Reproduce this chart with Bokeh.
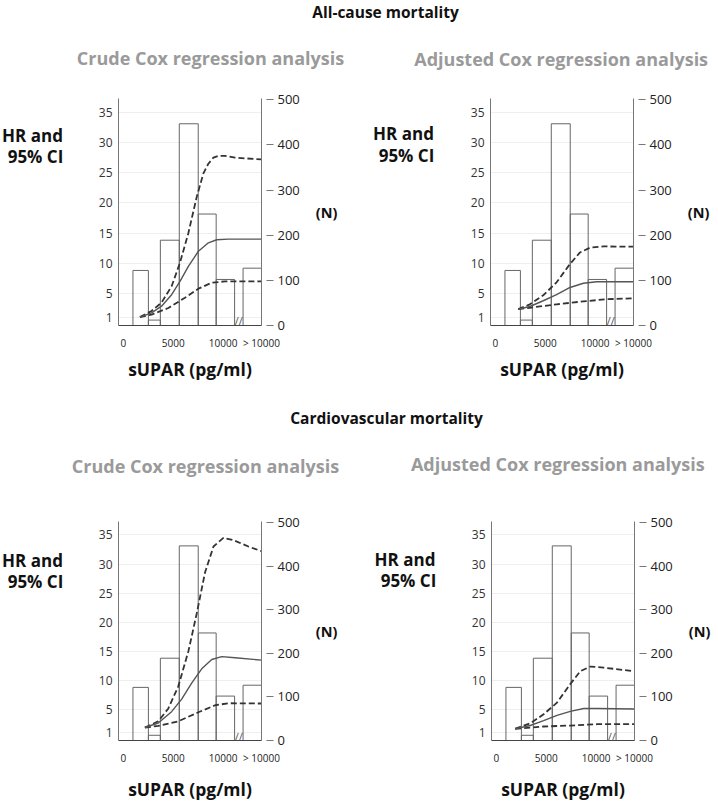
from bokeh.plotting import figure
from bokeh.models import Range1d, LinearAxis, FixedTicker, Label
from bokeh.layouts import column, row
from bokeh.embed import file_html
from bokeh.resources import INLINE

FONT = "Open Sans"

# ---------------- data ----------------
# histogram of sUPAR (pg/ml): bin edges and counts (right axis, N)
bin_left = [950, 2500, 3700, 5600, 7500, 9300, 12000]
bin_right = [2500, 3700, 5600, 7500, 9300, 11150, 13850]
bin_count = [122, 12, 189, 447, 247, 102, 127]

x_tick_vals = [0, 5000, 10000, 13850]
x_tick_labels = ["0", "5000", "10000", "> 10000"]
hr_ticks = [1, 5, 10, 15, 20, 25, 30, 35]
n_ticks = [0, 100, 200, 300, 400, 500]

# All-cause mortality, crude
ac_crude_hr_x = [1650, 2820, 3820, 4830, 5670, 6510, 7520, 8520, 9360, 10500, 13850]
ac_crude_hr = [1.1, 1.8, 2.9, 4.8, 7.0, 9.5, 12.0, 13.4, 13.9, 14.0, 14.0]
ac_crude_up_x = [1650, 2820, 3820, 4830, 5670, 6510, 7350, 8020, 8520, 9020, 9530, 10200, 11200, 13850]
ac_crude_up = [1.1, 2.1, 3.5, 6.2, 10.1, 15.0, 21.0, 24.9, 26.5, 27.5, 27.8, 27.8, 27.5, 27.2]
ac_crude_lo_x = [1650, 2820, 4500, 6170, 7520, 8860, 10200, 13850]
ac_crude_lo = [1.1, 1.5, 2.6, 4.3, 5.8, 6.8, 7.0, 7.0]

# All-cause mortality, adjusted
ac_adj_hr_x = [2280, 3450, 4790, 6130, 7480, 8820, 10160, 13850]
ac_adj_hr = [2.4, 2.85, 3.8, 4.8, 6.0, 6.7, 6.95, 6.95]
ac_adj_up_x = [2280, 3450, 4790, 6130, 7480, 8480, 9490, 10830, 13850]
ac_adj_up = [2.4, 3.2, 4.7, 6.85, 9.9, 11.8, 12.6, 12.8, 12.75]
ac_adj_lo_x = [2280, 3450, 6130, 8820, 11170, 13850]
ac_adj_lo = [2.4, 2.64, 3.2, 3.7, 4.05, 4.2]

# Cardiovascular mortality, crude
cv_crude_hr_x = [2150, 3490, 4830, 5840, 6840, 7850, 8860, 9860, 11200, 13850]
cv_crude_hr = [1.93, 2.7, 4.65, 6.8, 9.55, 12.0, 13.6, 14.1, 13.9, 13.5]
cv_crude_up_x = [2150, 3490, 4500, 5500, 6510, 7350, 8190, 9030, 10030, 11040, 12540, 13850]
cv_crude_up = [1.93, 3.0, 5.2, 9.0, 15.0, 21.5, 28.6, 33.0, 34.5, 34.1, 33.0, 32.2]
cv_crude_lo_x = [2150, 3490, 5500, 7520, 9200, 10540, 13850]
cv_crude_lo = [1.93, 2.2, 3.0, 4.55, 5.75, 6.1, 6.05]

# Cardiovascular mortality, adjusted
cv_adj_hr_x = [1880, 3390, 4730, 6070, 7410, 8760, 10100, 13850]
cv_adj_hr = [1.72, 2.27, 3.1, 4.0, 4.7, 5.2, 5.2, 5.1]
cv_adj_up_x = [1880, 3390, 4730, 6070, 7410, 8420, 9430, 10770, 13850]
cv_adj_up = [1.72, 2.65, 4.2, 6.2, 9.4, 11.6, 12.4, 12.2, 11.6]
cv_adj_lo_x = [1880, 4730, 7410, 10100, 13850]
cv_adj_lo = [1.72, 2.1, 2.27, 2.5, 2.5]

# ---------------- layout helpers ----------------
X_RANGE = (-500, 13850)
HR_RANGE = (-0.3, 37.3)
N_RANGE = (0, 503)
FW = 143
GRAY = "#9a9a9a"
BLK = "#111111"


def make_panel(width, height, border_left, border_top, frame_h, xlab_standoff, curves):
    p = figure(width=width, height=height, output_backend="svg", toolbar_location=None,
               x_range=Range1d(*X_RANGE), y_range=Range1d(*HR_RANGE),
               min_border_left=border_left, min_border_top=border_top,
               min_border_right=width - border_left - FW,
               min_border_bottom=height - border_top - frame_h)
    p.outline_line_color = None
    p.background_fill_color = "white"
    p.border_fill_color = "white"

    # left axis (HR)
    p.yaxis.ticker = FixedTicker(ticks=hr_ticks)
    p.yaxis.major_tick_out = 0
    p.yaxis.major_tick_in = 0
    p.yaxis.major_tick_line_color = None
    p.yaxis.minor_tick_line_color = None
    p.yaxis.axis_line_color = "#777777"
    p.yaxis.major_label_text_font = FONT
    p.yaxis.major_label_text_font_size = "12px"
    p.yaxis.major_label_text_color = "#333333"
    p.yaxis.major_label_standoff = 6
    p.ygrid.ticker = FixedTicker(ticks=hr_ticks)
    p.ygrid.grid_line_color = "#efefef"
    p.xgrid.grid_line_color = None

    # bottom axis
    p.xaxis.ticker = FixedTicker(ticks=x_tick_vals)
    p.xaxis.major_label_overrides = {v: l for v, l in zip(x_tick_vals, x_tick_labels)}
    p.xaxis.major_tick_out = 0
    p.xaxis.major_tick_in = 0
    p.xaxis.major_tick_line_color = None
    p.xaxis.minor_tick_line_color = None
    p.xaxis.axis_line_color = "#444444"
    p.xaxis.major_label_text_font = FONT
    p.xaxis.major_label_text_font_size = "10px"
    p.xaxis.major_label_text_color = "#222222"
    p.xaxis.major_label_standoff = 10
    p.xaxis.axis_label = "sUPAR (pg/ml)"
    p.xaxis.axis_label_text_font = FONT
    p.xaxis.axis_label_text_font_size = "17.5px"
    p.xaxis.axis_label_text_font_style = "bold"
    p.xaxis.axis_label_text_color = BLK
    p.xaxis.axis_label_standoff = xlab_standoff

    # right axis (N)
    p.extra_y_ranges = {"n": Range1d(*N_RANGE)}
    ax = LinearAxis(y_range_name="n", ticker=FixedTicker(ticks=n_ticks))
    ax.major_tick_in = -5
    ax.major_tick_out = 12
    ax.major_tick_line_color = "#777777"
    ax.minor_tick_line_color = None
    ax.axis_line_color = "#777777"
    ax.major_label_text_font = FONT
    ax.major_label_text_font_size = "13px"
    ax.major_label_text_color = "#222222"
    ax.major_label_standoff = 4
    ax.axis_label = "(N)"
    ax.axis_label_orientation = "horizontal"
    ax.axis_label_text_font = FONT
    ax.axis_label_text_font_size = "14.5px"
    ax.axis_label_text_font_style = "bold"
    ax.axis_label_text_color = BLK
    ax.axis_label_standoff = 13
    p.add_layout(ax, "right")

    # histogram
    p.quad(left=bin_left, right=bin_right, top=bin_count, bottom=0, y_range_name="n",
           fill_color=None, line_color="#666666", line_width=1)

    hx, hy, ux, uy, lx, ly = curves
    p.line(ux, uy, line_color="#333333", line_width=1.8, line_dash="6 3")
    p.line(lx, ly, line_color="#333333", line_width=1.8, line_dash="6 3")
    p.line(hx, hy, line_color="#555555", line_width=1.4)

    # axis break mark between the last two bins
    bx = (bin_right[5] + bin_left[6]) / 2
    p.add_layout(Label(x=bx, y=0.45, text="//", text_font=FONT, text_font_size="11px",
                       text_color="#555555", text_align="center", text_baseline="middle"))
    return p


def text_fig(width, height, items):
    t = figure(width=width, height=height, output_backend="svg", toolbar_location=None,
               x_range=Range1d(0, width), y_range=Range1d(height, 0), min_border=0)
    t.axis.visible = False
    t.grid.grid_line_color = None
    t.outline_line_color = None
    for (x, y, txt, size, color) in items:
        t.add_layout(Label(x=x, y=y, text=txt, text_font=FONT, text_font_size=size,
                           text_font_style="bold", text_color=color,
                           text_align="center", text_baseline="middle"))
    return t


def hr_fig(width, height, c1, c2):
    return text_fig(width, height, [(c1[0], c1[1], "HR and", "17px", BLK),
                                    (c2[0], c2[1], "95% CI", "17px", BLK)])


# top block (page y 0..80)
t1 = text_fig(718, 80, [
    (385, 11, "All-cause mortality", "15.5px", BLK),
    (210, 57, "Crude Cox regression analysis", "18px", GRAY),
    (563, 58, "Adjusted  Cox regression analysis", "18px", GRAY),
])

l1 = hr_fig(75, 320, (32, 52), (35, 82))
p1 = make_panel(284, 320, 43, 18, 228, 4,
                (ac_crude_hr_x, ac_crude_hr, ac_crude_up_x, ac_crude_up, ac_crude_lo_x, ac_crude_lo))
l2 = hr_fig(86, 320, (44, 50), (47, 80))
p2 = make_panel(273, 320, 45, 17, 228, 4,
                (ac_adj_hr_x, ac_adj_hr, ac_adj_up_x, ac_adj_up, ac_adj_lo_x, ac_adj_lo))

# middle block (page y 400..500)
t2 = text_fig(718, 100, [
    (386, 17, "Cardiovascular mortality", "15.5px", BLK),
    (205, 65, "Crude Cox regression analysis", "18px", GRAY),
    (562, 63, "Adjusted   Cox regression analysis", "18px", GRAY),
])

l3 = hr_fig(75, 303, (32, 54), (35, 83))
p3 = make_panel(284, 303, 43, 21, 227, 9,
                (cv_crude_hr_x, cv_crude_hr, cv_crude_up_x, cv_crude_up, cv_crude_lo_x, cv_crude_lo))
l4 = hr_fig(86, 303, (45.5, 52), (49, 81))
p4 = make_panel(273, 303, 46, 19, 227, 9,
                (cv_adj_hr_x, cv_adj_hr, cv_adj_up_x, cv_adj_up, cv_adj_lo_x, cv_adj_lo))

layout = column(t1, row(l1, p1, l2, p2), t2, row(l3, p3, l4, p4))

open("out.html", "w").write(file_html(layout, INLINE))
